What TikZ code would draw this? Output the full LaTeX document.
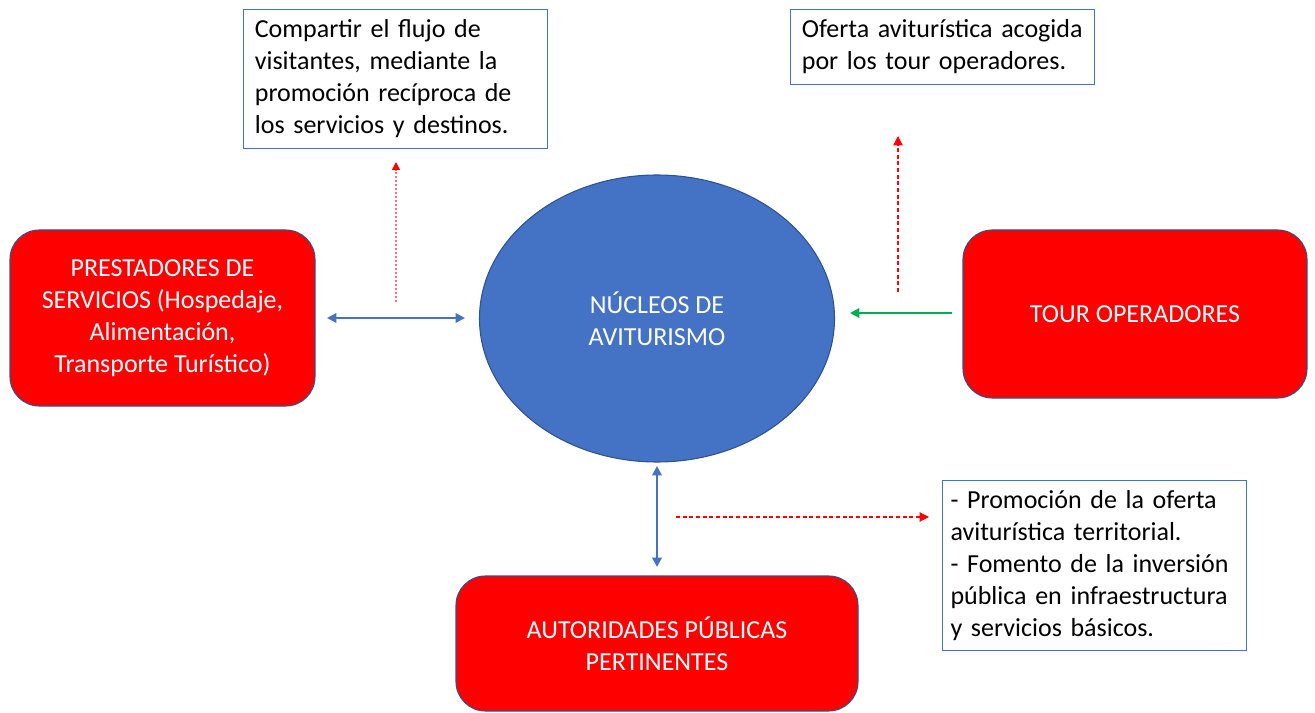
\documentclass[tikz,border=0pt]{standalone}
\usepackage{fontspec}
\setmainfont{Carlito}
\usetikzlibrary{arrows.meta,shapes.geometric}
\definecolor{accblue}{HTML}{4472C4}
\definecolor{darkblue}{HTML}{2F528F}
\definecolor{accgreen}{HTML}{00B050}
\begin{document}
\begin{tikzpicture}[x=0.75pt,y=-0.75pt,
  every node/.style={font=\fontsize{19.5}{24}\selectfont},
  redbox/.style={draw=darkblue, line width=0.8pt, fill=red, text=white, rounded corners=22pt, align=center, inner sep=0pt},
  notebox/.style={draw=accblue, line width=0.8pt, fill=white, align=left, anchor=north west, inner xsep=8.5pt, inner ysep=0pt},
  bluearrow/.style={draw=accblue, line width=2pt, {Triangle[width=7pt,length=7pt]}-{Triangle[width=7pt,length=7pt]}},
  greenarrow/.style={draw=accgreen, line width=2.2pt, -{Triangle[width=7pt,length=7pt]}},
  reddot/.style={draw=red!55, line width=1pt, dash pattern=on 1.5pt off 1.5pt, -{Triangle[width=6pt,length=6pt,fill=red,color=red]}},
  reddash/.style={draw=red, line width=0.8pt, dash pattern=on 3pt off 2pt, -{Triangle[width=7pt,length=7pt]}}
]
\useasboundingbox (0,0) rectangle (1315,713);
\begin{scope}
\clip (0,0) rectangle (1315,713);
\node[redbox, minimum width=228.75pt, minimum height=132pt] (prest) at (162.5,318)
  {PRESTADORES DE\\SERVICIOS (Hospedaje,\\Alimentación,\\Transporte Turístico)};
\node[redbox, minimum width=258pt, minimum height=126pt] (tour) at (1135,314) {TOUR OPERADORES};
\node[redbox, minimum width=301.5pt, minimum height=101.25pt] (aut) at (657,643.5) {AUTORIDADES PÚBLICAS\\PERTINENTES};
\node[draw=darkblue, line width=0.8pt, fill=accblue, text=white, ellipse, minimum width=266.25pt, minimum height=215.25pt, inner sep=0pt, align=center] (nuc) at (657,318.5) {NÚCLEOS DE\\AVITURISMO};

\node[notebox, text width=211pt, minimum height=104.25pt] (n1) at (243,9)
  {Compartir el flujo de\\visitantes, mediante la\\promoción recíproca de\\los servicios y destinos.};
\node[notebox, text width=211pt, minimum height=56.25pt] (n2) at (790,9)
  {Oferta aviturística acogida\\por los tour operadores.};
\node[notebox, text width=216pt, minimum height=127.5pt, inner xsep=6pt] (n3) at (942,480)
  {- Promoción de la oferta\\aviturística territorial.\\- Fomento de la inversión\\pública en infraestructura\\y servicios básicos.};

\coordinate (a1) at (327,318);
\coordinate (a2) at (465,318);
\draw[bluearrow] (a1) -- (a2);
\coordinate (g1) at (952,313);
\coordinate (g2) at (850,313);
\draw[greenarrow] (g1) -- (g2);
\coordinate (v1) at (657,466);
\coordinate (v2) at (657,567);
\draw[bluearrow] (v1) -- (v2);
\coordinate (d1) at (396,302);
\coordinate (d2) at (396,162);
\draw[reddot] (d1) -- (d2);
\coordinate (e1) at (898,292);
\coordinate (e2) at (898,136);
\draw[reddash] (e1) -- (e2);
\coordinate (h1) at (676,517);
\coordinate (h2) at (929,517);
\draw[reddash] (h1) -- (h2);
\end{scope}
\end{tikzpicture}
\end{document}
